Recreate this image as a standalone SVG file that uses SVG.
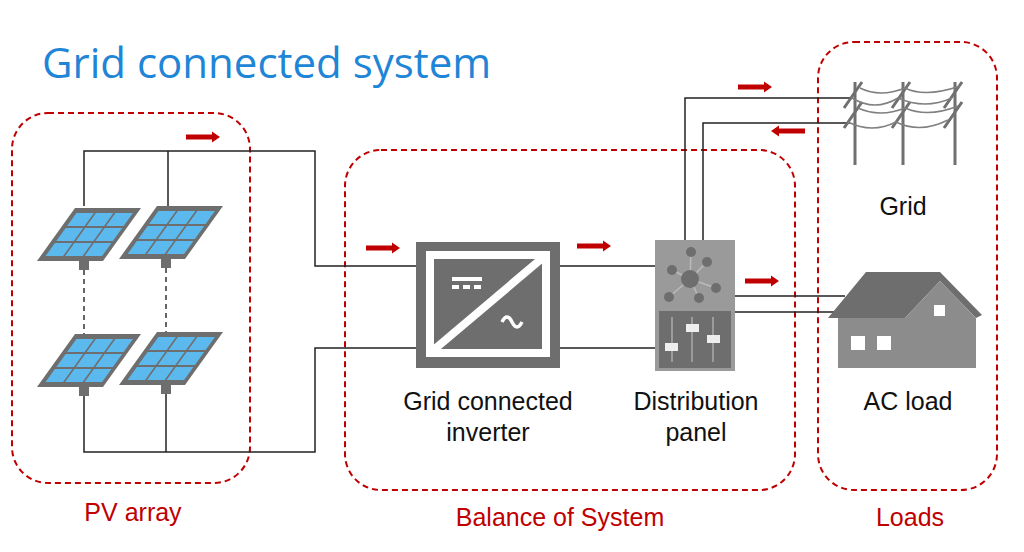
<svg xmlns="http://www.w3.org/2000/svg" width="1024" height="552" viewBox="0 0 1024 552">
<style>
.grp{fill:none;stroke:#c00000;stroke-width:2;stroke-dasharray:6,4}
.w{fill:none;stroke:#222;stroke-width:1.5}
.lbl{font-family:"Liberation Sans",Arial,sans-serif;font-size:25px;fill:#c00000;text-anchor:middle}
.t{font-family:"Liberation Sans",Arial,sans-serif;font-size:25px;fill:#111;text-anchor:middle}
.arr{fill:#c00000}
.pole{stroke:#707070;stroke-width:3;fill:none}
.cable{stroke:#808080;stroke-width:1.5;fill:none}
</style>
<defs>
<g id="pv">
<rect x="0" y="0" width="66" height="53" fill="#6e6e6e"/>
<g fill="#5cb9ee">
<rect x="5" y="5" width="17.5" height="13"/><rect x="24.5" y="5" width="17.5" height="13"/><rect x="44" y="5" width="17.5" height="13"/>
<rect x="5" y="20" width="17.5" height="13"/><rect x="24.5" y="20" width="17.5" height="13"/><rect x="44" y="20" width="17.5" height="13"/>
<rect x="5" y="35" width="17.5" height="13"/><rect x="24.5" y="35" width="17.5" height="13"/><rect x="44" y="35" width="17.5" height="13"/>
</g>
</g>
<path id="ar" d="M0,-2.5 H26 V-5.5 L34,0 L26,5.5 V2.5 H0 Z"/>
</defs>
<rect width="1024" height="552" fill="#fff"/>
<text x="42" y="78" font-family="Open Sans,Liberation Sans,sans-serif" font-size="42" fill="#1f85d6">Grid connected system</text>

<g id="groups">
<rect class="grp" x="12" y="113" width="238" height="370" rx="36"/>
<rect class="grp" x="345" y="150" width="450" height="340" rx="36"/>
<rect class="grp" x="818" y="42" width="179" height="448" rx="36"/>
<text class="lbl" x="133" y="521">PV array</text>
<text class="lbl" x="560" y="526">Balance of System</text>
<text class="lbl" x="910" y="526">Loads</text>
</g>

<g id="connectors">
<path class="w" d="M84,206 V151 H315 V266 H416"/>
<path class="w" d="M168,206 V151"/>
<path class="w" d="M84,390 V452 H315 V348 H416"/>
<path class="w" d="M166,390 V452"/>
<path d="M84,270 V334 M166,268 V332" stroke="#333" stroke-width="1.5" stroke-dasharray="5,4"/>
<path class="w" d="M560,266 H655 M560,348 H655"/>
<path class="w" d="M685,240 V98 H850 M703,240 V123 H850"/>
<path class="w" d="M735,296 H845 M735,312 H838"/>
<g class="arr">
<use href="#ar" transform="translate(186,137)"/>
<use href="#ar" transform="translate(366,248)"/>
<use href="#ar" transform="translate(577,246)"/>
<use href="#ar" transform="translate(738,87)"/>
<use href="#ar" transform="translate(805,131) scale(-1,1)"/>
<use href="#ar" transform="translate(745,281)"/>
</g>
</g>

<g id="pv-array">
<use href="#pv" transform="translate(37,208) matrix(1,0,-0.717,1,38,0)"/>
<use href="#pv" transform="translate(119,206) matrix(1,0,-0.717,1,38,0)"/>
<use href="#pv" transform="translate(37,334) matrix(1,0,-0.717,1,38,0)"/>
<use href="#pv" transform="translate(119,332) matrix(1,0,-0.717,1,38,0)"/>
<g fill="#6e6e6e">
<rect x="79" y="261" width="10" height="9"/><rect x="161" y="259" width="10" height="9"/>
<rect x="79" y="387" width="10" height="9"/><rect x="161" y="385" width="10" height="9"/>
</g>
</g>

<g id="inverter">
<rect x="416" y="242" width="144" height="126" fill="#6e6e6e"/>
<rect x="426" y="251" width="124" height="106" fill="#fff"/>
<rect x="434" y="259" width="108" height="90" fill="#6e6e6e"/>
<path d="M430,353 L546,255" stroke="#fff" stroke-width="8"/>
<rect x="452" y="277" width="30" height="4" fill="#fff"/>
<rect x="452" y="285" width="7" height="4" fill="#fff"/><rect x="463" y="285" width="7" height="4" fill="#fff"/><rect x="474" y="285" width="7" height="4" fill="#fff"/>
<path d="M502,322 q5,-10 10,0 t10,0" stroke="#fff" stroke-width="3.5" fill="none"/>
<text class="t" x="488" y="410">Grid connected</text>
<text class="t" x="488" y="441">inverter</text>
</g>

<g id="distribution-panel">
<rect x="655" y="240" width="80" height="131" fill="#9a9a9a"/>
<rect x="659" y="311" width="72" height="57" fill="#6e6e6e"/>
<g stroke="#bbb" stroke-width="1.5">
<path d="M690,279 L691,252 M690,279 L707,262 M690,279 L672,270 M690,279 L716,288 M690,279 L669,297 M690,279 L699,298"/>
</g>
<g fill="#6e6e6e">
<circle cx="690" cy="279" r="9"/>
<circle cx="691" cy="252" r="5"/><circle cx="707" cy="262" r="5"/><circle cx="672" cy="270" r="5"/>
<circle cx="716" cy="288" r="5"/><circle cx="669" cy="297" r="5"/><circle cx="699" cy="298" r="5"/>
</g>
<g stroke="#aaa" stroke-width="1.5"><path d="M672,317 V362 M692,317 V362 M713,317 V362"/></g>
<g fill="#eee"><rect x="665" y="343" width="13" height="8"/><rect x="686" y="324" width="13" height="8"/><rect x="707" y="335" width="13" height="8"/></g>
<text class="t" x="696" y="410">Distribution</text>
<text class="t" x="696" y="441">panel</text>
</g>

<g id="grid">
<path class="pole" d="M855,82 V165 M903,82 V165 M955,82 V165"/>
<path class="pole" d="M844,108 L862,82 M844,128 L862,102 M892,108 L910,82 M892,128 L910,102 M944,108 L962,82 M944,128 L962,102"/>
<path class="cable" d="M860,88 Q880,98 905,88 Q925,98 960,86 M852,98 Q875,112 898,98 Q925,110 952,98 M858,108 Q880,118 905,108 Q928,118 958,106 M848,122 Q872,134 896,122 Q920,134 948,120"/>
<text class="t" x="903" y="215">Grid</text>
</g>

<g id="ac-load">
<rect x="838" y="318" width="138" height="50" fill="#8c8c8c"/>
<path d="M828,318 L866,272 H940 L982,315 L976,318 L940,281 L905,318 Z" fill="#6e6e6e"/>
<path d="M905,318 L940,281 L976,318 V368 H905 Z" fill="#8c8c8c"/>
<g fill="#fff"><rect x="851" y="336" width="14" height="14"/><rect x="877" y="336" width="14" height="14"/><rect x="934" y="305" width="11" height="11"/></g>
<rect x="928" y="342" width="20" height="26" fill="#8c8c8c"/>
<text class="t" x="908" y="410">AC load</text>
</g>
</svg>
